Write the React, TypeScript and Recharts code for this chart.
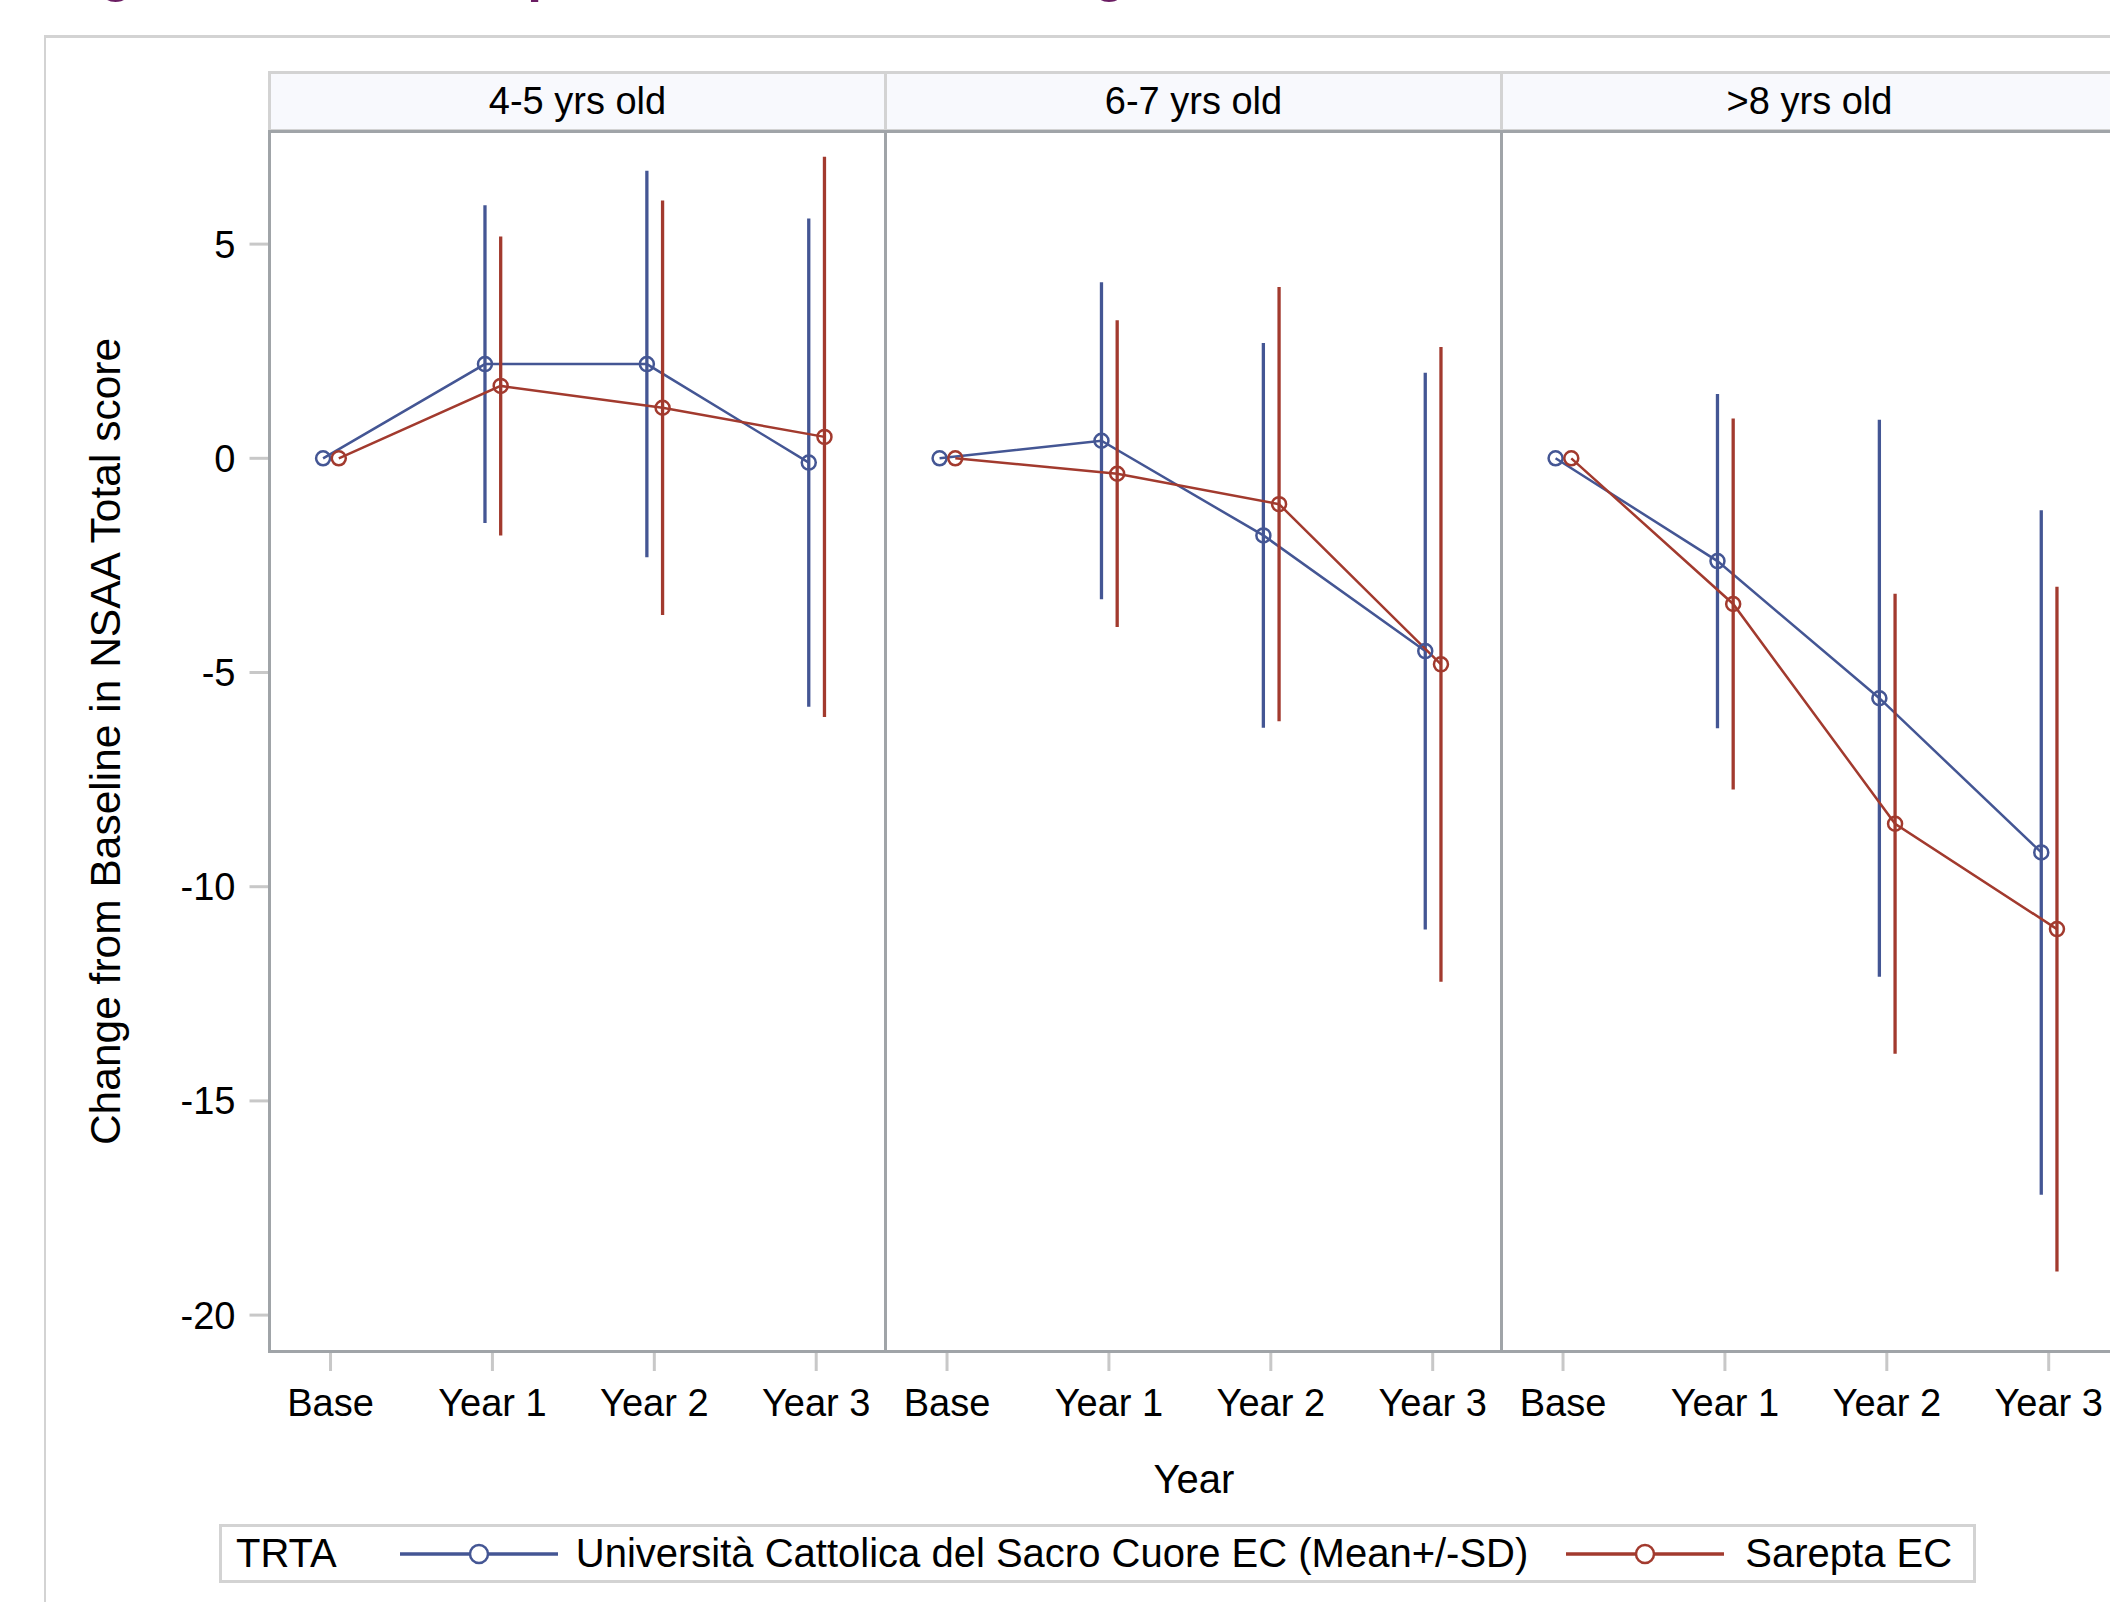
import { ErrorBar, Line, LineChart, XAxis, YAxis } from "recharts";

const categories = ["Base", "Year 1", "Year 2", "Year 3"];
const ageGroups = ["4-5 yrs old", "6-7 yrs old", ">8 yrs old"];
const seriesNames = ["Università Cattolica del Sacro Cuore EC (Mean+/-SD)", "Sarepta EC"];

// mean and SD per age group (rows) and visit (columns)
const ucscMean = [
  [0, 2.2, 2.2, -0.1],
  [0, 0.41, -1.8, -4.5],
  [0, -2.4, -5.6, -9.2],
];
const ucscSd = [
  [0, 3.71, 4.51, 5.7],
  [0, 3.7, 4.49, 6.5],
  [0, 3.9, 6.5, 7.99],
];
const sareptaMean = [
  [0, 1.69, 1.18, 0.5],
  [0, -0.36, -1.07, -4.81],
  [0, -3.4, -8.53, -10.99],
];
const sareptaSd = [
  [0, 3.49, 4.84, 6.54],
  [0, 3.58, 5.07, 7.41],
  [0, 4.33, 5.37, 7.99],
];
const yTicks = [-20, -15, -10, -5, 0, 5];

const BLUE = "#445694";
const RED = "#A23A2E";
const TICK = "#c8c8c8";
const FRAME = "#a0a4a8";
const LIGHT = "#d3d3d3";

// layout (px)
const Y_AXIS_W = 269.5;
const PANEL_W = 616;
const PLOT_TOP = 132;
const PLOT_H = 1219;
const X_AXIS_H = 150;
const CHART_H = PLOT_TOP + PLOT_H + X_AXIS_H;

const X_DOMAIN = [-0.377, 3.428];
const UCSC_SHIFT = 0.046; // dodge left
const SAREPTA_SHIFT = -0.051; // dodge right
const Y_DOMAIN = [-20.838, 7.617];

function Panel({ index }: { index: number }) {
  const showY = index === 0;
  const data = categories.map((c, i) => ({
    idx: i,
    ucsc: ucscMean[index][i],
    ucscSd: ucscSd[index][i],
    sarepta: sareptaMean[index][i],
    sareptaSd: sareptaSd[index][i],
  }));
  const left = showY ? 0 : Y_AXIS_W + index * PANEL_W;
  return (
    <div style={{ position: "absolute", left, top: 0 }}>
      <LineChart
        width={showY ? Y_AXIS_W + PANEL_W : PANEL_W}
        height={CHART_H}
        data={data}
        margin={{ top: PLOT_TOP, right: 0, bottom: 0, left: 0 }}
      >
        <XAxis
          xAxisId="cat"
          dataKey="idx"
          type="number"
          domain={X_DOMAIN}
          ticks={[0, 1, 2, 3]}
          interval={0}
          allowDataOverflow
          tickFormatter={(v) => categories[v]}
          axisLine={false}
          tickLine={{ stroke: TICK, strokeWidth: 3 }}
          tickSize={20}
          tickMargin={18}
          tick={{ fontSize: 38, fill: "#000" }}
          height={X_AXIS_H}
          label={
            index === 1
              ? { value: "Year", position: "insideBottom", offset: 8, fontSize: 40, fill: "#000" }
              : undefined
          }
        />
        <XAxis
          xAxisId="ucsc"
          dataKey="idx"
          type="number"
          hide
          allowDataOverflow
          domain={[X_DOMAIN[0] + UCSC_SHIFT, X_DOMAIN[1] + UCSC_SHIFT]}
        />
        <XAxis
          xAxisId="sarepta"
          dataKey="idx"
          type="number"
          hide
          allowDataOverflow
          domain={[X_DOMAIN[0] + SAREPTA_SHIFT, X_DOMAIN[1] + SAREPTA_SHIFT]}
        />
        <YAxis
          hide={!showY}
          width={Y_AXIS_W}
          domain={Y_DOMAIN}
          ticks={yTicks}
          interval={0}
          allowDataOverflow
          axisLine={false}
          tickLine={{ stroke: TICK, strokeWidth: 3 }}
          tickSize={20}
          tickMargin={14}
          tick={{ fontSize: 38, fill: "#000" }}
          label={{
            value: "Change from Baseline in NSAA Total score",
            angle: -90,
            position: "insideLeft",
            offset: 105,
            fontSize: 42.5,
            fill: "#000",
            style: { textAnchor: "middle" },
          }}
        />
        <Line
          xAxisId="ucsc"
          type="linear"
          dataKey="ucsc"
          name={seriesNames[0]}
          stroke={BLUE}
          strokeWidth={2.5}
          dot={{ r: 7, stroke: BLUE, strokeWidth: 2.5, fill: "none" }}
          activeDot={false}
          isAnimationActive={false}
        >
          <ErrorBar dataKey="ucscSd" direction="y" width={0} stroke={BLUE} strokeWidth={3.3} isAnimationActive={false} />
        </Line>
        <Line
          xAxisId="sarepta"
          type="linear"
          dataKey="sarepta"
          name={seriesNames[1]}
          stroke={RED}
          strokeWidth={2.5}
          dot={{ r: 7, stroke: RED, strokeWidth: 2.5, fill: "none" }}
          activeDot={false}
          isAnimationActive={false}
        >
          <ErrorBar dataKey="sareptaSd" direction="y" width={0} stroke={RED} strokeWidth={3.3} isAnimationActive={false} />
        </Line>
      </LineChart>
    </div>
  );
}

function Swatch({ color, marginLeft }: { color: string; marginLeft: number }) {
  return (
    <svg width={158} height={26} style={{ marginLeft, flex: "none" }}>
      <line x1={0} y1={13} x2={158} y2={13} stroke={color} strokeWidth={3.5} />
      <circle cx={79} cy={13} r={9} stroke={color} strokeWidth={2.5} fill="#fff" />
    </svg>
  );
}

export default function App() {
  return (
    <div
      style={{
        position: "fixed",
        left: 0,
        top: 0,
        width: 2110,
        height: 1602,
        overflow: "hidden",
        background: "#fff",
        fontFamily: '"Liberation Sans", Arial, sans-serif',
        color: "#000",
      }}
    >
      {/* title, cut off by the top of the page: only descenders show */}
      <div
        style={{
          position: "absolute",
          left: 53,
          top: -54,
          fontSize: 53,
          lineHeight: "53px",
          fontWeight: "bold",
          color: "#6b1d63",
          whiteSpace: "nowrap",
        }}
      >
        Figure 14.2.1: Comparison of NSAA Change from Baseline
      </div>

      {/* outer frame */}
      <div
        style={{
          position: "absolute",
          left: 44,
          top: 35,
          width: 2200,
          height: 1700,
          borderLeft: `2px solid ${LIGHT}`,
          borderTop: `3px solid ${LIGHT}`,
        }}
      />

      {ageGroups.map((g, k) => (
        <Panel key={g} index={k} />
      ))}

      {/* facet headers */}
      {ageGroups.map((g, k) => (
        <div
          key={"h" + g}
          style={{
            position: "absolute",
            left: Y_AXIS_W + k * PANEL_W - 1.5,
            top: 71,
            width: PANEL_W + 3,
            height: 61,
            boxSizing: "border-box",
            border: `3px solid ${LIGHT}`,
            background: "#f8f9fd",
            fontSize: 38,
            lineHeight: "55px",
            textAlign: "center",
            whiteSpace: "nowrap",
          }}
        >
          {g}
        </div>
      ))}

      {/* panel frames */}
      {ageGroups.map((g, k) => (
        <div
          key={"f" + g}
          style={{
            position: "absolute",
            left: Y_AXIS_W + k * PANEL_W - 1.75,
            top: PLOT_TOP - 1.75,
            width: PANEL_W + 3.5,
            height: PLOT_H + 3.5,
            boxSizing: "border-box",
            border: `3.5px solid ${FRAME}`,
            pointerEvents: "none",
          }}
        />
      ))}

      {/* legend */}
      <div
        style={{
          position: "absolute",
          left: 219,
          top: 1524,
          width: 1757,
          height: 59,
          boxSizing: "border-box",
          border: `3px solid ${LIGHT}`,
          display: "flex",
          alignItems: "center",
          paddingLeft: 14,
          fontSize: 40,
          whiteSpace: "nowrap",
        }}
      >
        <span>TRTA</span>
        <Swatch color={BLUE} marginLeft={63} />
        <span style={{ marginLeft: 18 }}>{seriesNames[0]}</span>
        <Swatch color={RED} marginLeft={38} />
        <span style={{ marginLeft: 21 }}>{seriesNames[1]}</span>
      </div>
    </div>
  );
}
